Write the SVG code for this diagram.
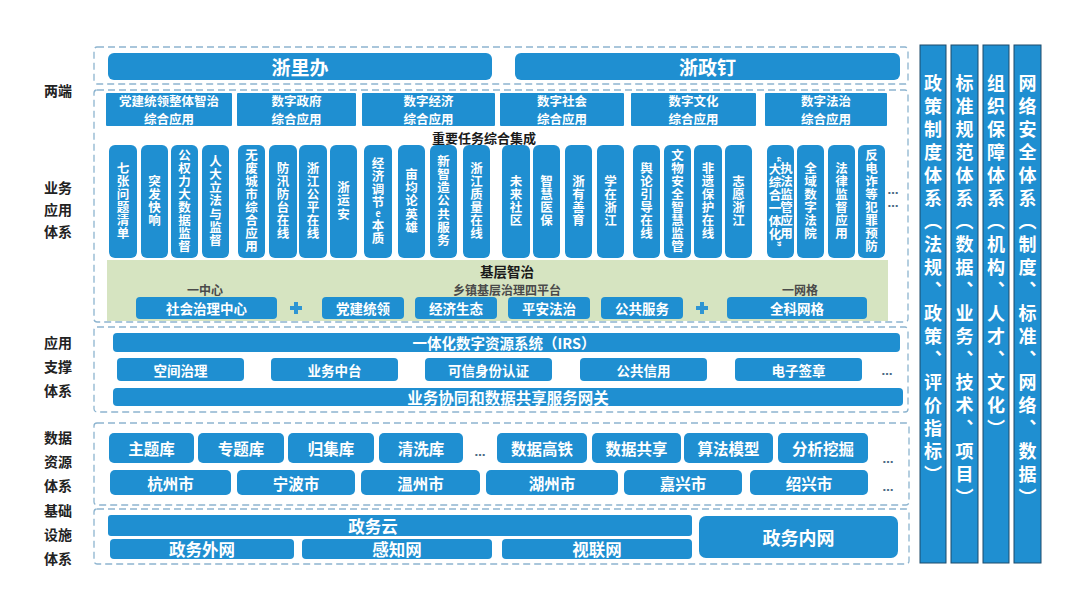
<svg xmlns="http://www.w3.org/2000/svg" width="1080" height="608" viewBox="0 0 1080 608">
<style>
.dash{fill:none;stroke:#8db4cf;stroke-width:1.3;stroke-dasharray:7 4}
.b{fill:#1f8fd1}
.bar{fill:#1f8fd1;stroke:#1d4a6b;stroke-width:1}
.g{fill:#d6e4c1}
.t{font-family:"Noto Sans CJK SC","Noto Sans",sans-serif;font-weight:700;fill:#fff;text-anchor:middle;dominant-baseline:central}
.h{font-family:"Noto Sans CJK SC","Noto Sans",sans-serif;font-weight:700;fill:#fff;text-anchor:middle;dominant-baseline:central;font-size:12.5px}
.k{font-family:"Noto Sans CJK SC","Noto Sans",sans-serif;font-weight:700;fill:#1a1a1a;text-anchor:middle;dominant-baseline:central}
.gr{font-family:"Noto Sans CJK SC","Noto Sans",sans-serif;font-weight:700;fill:#4a4a4a;text-anchor:middle;dominant-baseline:central;font-size:12px}
.v{font-family:"Noto Sans CJK SC","Noto Sans",sans-serif;font-weight:700;fill:#fff;text-anchor:middle;writing-mode:vertical-rl;font-size:12.5px;letter-spacing:0.6px}
.rv{font-family:"Noto Sans CJK SC","Noto Sans",sans-serif;font-weight:700;fill:#fff;text-anchor:start;writing-mode:vertical-rl;font-size:18px;letter-spacing:5px}
.lbl{font-family:"Noto Sans CJK SC","Noto Sans",sans-serif;font-weight:700;fill:#222;text-anchor:middle;dominant-baseline:central;font-size:14px}
.dots{font-family:"DejaVu Sans",sans-serif;font-weight:700;fill:#4d6a85;text-anchor:middle;dominant-baseline:central;font-size:11px}
.plus{fill:#2e95d3}
</style>
<rect width="1080" height="608" fill="#fff"/>

<g id="labels">
<text class="lbl" x="58" y="90">两端</text>
<text class="lbl" x="58" y="187">业务</text>
<text class="lbl" x="58" y="209">应用</text>
<text class="lbl" x="58" y="231">体系</text>
<text class="lbl" x="58" y="342">应用</text>
<text class="lbl" x="58" y="366">支撑</text>
<text class="lbl" x="58" y="390">体系</text>
<text class="lbl" x="58" y="437">数据</text>
<text class="lbl" x="58" y="461">资源</text>
<text class="lbl" x="58" y="485">体系</text>
<text class="lbl" x="58" y="510">基础</text>
<text class="lbl" x="58" y="534">设施</text>
<text class="lbl" x="58" y="558">体系</text>
</g>

<g id="layer-frames">
<rect class="dash" x="94" y="47" width="814" height="37" rx="3"/>
<rect class="dash" x="94" y="90" width="814" height="232" rx="3"/>
<rect class="dash" x="94" y="327" width="814" height="85" rx="3"/>
<rect class="dash" x="94" y="423" width="815" height="82" rx="3"/>
<rect class="dash" x="94" y="509" width="815" height="55" rx="3"/>
</g>

<g id="two-ends">
<g id="zheliban"><rect class="b" x="108" y="53" width="384" height="27" rx="6"/><text class="t" x="300" y="66.5" font-size="19">浙里办</text></g>
<g id="zhezhengding"><rect class="b" x="515" y="53" width="385" height="27" rx="6"/><text class="t" x="707.5" y="66.5" font-size="19">浙政钉</text></g>
</g>

<g id="headers">
<g id="h1"><rect class="b" x="106" y="93" width="126" height="33" rx="1"/><text class="h" x="169" y="100.5">党建统领整体智治</text><text class="h" x="169" y="118.5">综合应用</text></g>
<g id="h2"><rect class="b" x="237" y="93" width="119" height="33" rx="1"/><text class="h" x="296.5" y="100.5">数字政府</text><text class="h" x="296.5" y="118.5">综合应用</text></g>
<g id="h3"><rect class="b" x="362" y="93" width="133" height="33" rx="1"/><text class="h" x="428.5" y="100.5">数字经济</text><text class="h" x="428.5" y="118.5">综合应用</text></g>
<g id="h4"><rect class="b" x="500" y="93" width="124" height="33" rx="1"/><text class="h" x="562" y="100.5">数字社会</text><text class="h" x="562" y="118.5">综合应用</text></g>
<g id="h5"><rect class="b" x="631" y="93" width="125" height="33" rx="1"/><text class="h" x="693.5" y="100.5">数字文化</text><text class="h" x="693.5" y="118.5">综合应用</text></g>
<g id="h6"><rect class="b" x="765" y="93" width="122" height="33" rx="1"/><text class="h" x="826" y="100.5">数字法治</text><text class="h" x="826" y="118.5">综合应用</text></g>
<text class="k" x="484" y="137" font-size="13">重要任务综合集成</text>
</g>

<g id="apps">
<g id="a1"><rect class="b" x="109" y="145" width="28" height="113" rx="6"/><text class="v" x="123" y="201">七张问题清单</text></g>
<g id="a2"><rect class="b" x="141" y="145" width="27" height="113" rx="6"/><text class="v" x="154.5" y="201">突发快响</text></g>
<g id="a3"><rect class="b" x="171" y="145" width="27" height="113" rx="6"/><text class="v" x="184.5" y="201">公权力大数据监督</text></g>
<g id="a4"><rect class="b" x="202" y="145" width="27" height="113" rx="6"/><text class="v" x="215.5" y="201">人大立法与监督</text></g>
<g id="a5"><rect class="b" x="238" y="145" width="27" height="113" rx="6"/><text class="v" x="251.5" y="201">无废城市综合应用</text></g>
<g id="a6"><rect class="b" x="269" y="145" width="28" height="113" rx="6"/><text class="v" x="283" y="201">防汛防台在线</text></g>
<g id="a7"><rect class="b" x="299" y="145" width="28" height="113" rx="6"/><text class="v" x="313" y="201">浙江公平在线</text></g>
<g id="a8"><rect class="b" x="330" y="145" width="27" height="113" rx="6"/><text class="v" x="343.5" y="201">浙运安</text></g>
<g id="a9"><rect class="b" x="364" y="145" width="28" height="113" rx="6"/><text class="v" x="378" y="201" style="text-orientation:upright">经济调节<tspan font-size="9">e</tspan>本质</text></g>
<g id="a10"><rect class="b" x="398" y="145" width="27" height="113" rx="6"/><text class="v" x="411.5" y="201">亩均论英雄</text></g>
<g id="a11"><rect class="b" x="430" y="145" width="27" height="113" rx="6"/><text class="v" x="443.5" y="201">新智造公共服务</text></g>
<g id="a12"><rect class="b" x="463" y="145" width="27" height="113" rx="6"/><text class="v" x="476.5" y="201">浙江质量在线</text></g>
<g id="a13"><rect class="b" x="502" y="145" width="28" height="113" rx="6"/><text class="v" x="516" y="201">未来社区</text></g>
<g id="a14"><rect class="b" x="533" y="145" width="27" height="113" rx="6"/><text class="v" x="546.5" y="201">智慧医保</text></g>
<g id="a15"><rect class="b" x="565" y="145" width="27" height="113" rx="6"/><text class="v" x="578.5" y="201">浙有善育</text></g>
<g id="a16"><rect class="b" x="597" y="145" width="27" height="113" rx="6"/><text class="v" x="610.5" y="201">学在浙江</text></g>
<g id="a17"><rect class="b" x="633" y="145" width="27" height="113" rx="6"/><text class="v" x="646.5" y="201">舆论引导在线</text></g>
<g id="a18"><rect class="b" x="664" y="145" width="27" height="113" rx="6"/><text class="v" x="677.5" y="201">文物安全智慧监管</text></g>
<g id="a19"><rect class="b" x="694" y="145" width="28" height="113" rx="6"/><text class="v" x="708" y="201">非遗保护在线</text></g>
<g id="a20"><rect class="b" x="725" y="145" width="27" height="113" rx="6"/><text class="v" x="738.5" y="201">志愿浙江</text></g>
<g id="a21"><rect class="b" x="767" y="145" width="27" height="113" rx="6"/><text class="v" x="775" y="202" font-size="10" letter-spacing="0">“大综合一体化”</text><text class="v" x="786.5" y="201" font-size="10.5" letter-spacing="0">执法监管应用</text></g>
<g id="a22"><rect class="b" x="797" y="145" width="27" height="113" rx="6"/><text class="v" x="810.5" y="201">全域数字法院</text></g>
<g id="a23"><rect class="b" x="828" y="145" width="27" height="113" rx="6"/><text class="v" x="841.5" y="201">法律监督应用</text></g>
<g id="a24"><rect class="b" x="858" y="145" width="27" height="113" rx="6"/><text class="v" x="871.5" y="201">反电诈等犯罪预防</text></g>
<text class="dots" x="893" y="190">…</text>
<text class="dots" x="893" y="203">…</text>
</g>

<g id="grassroots">
<rect class="g" x="107" y="260" width="781" height="61"/>
<text class="k" x="507" y="270.5" font-size="13.5">基层智治</text>
<text class="gr" x="507" y="289">乡镇基层治理四平台</text>
<text class="gr" x="205" y="289" font-size="12.5">一中心</text>
<text class="gr" x="800" y="289" font-size="12.5">一网格</text>
<g id="g1"><rect class="b" x="136" y="297" width="141" height="22" rx="4"/><text class="t" x="206.5" y="308" font-size="13.5">社会治理中心</text></g>
<path class="plus" d="M294 302h4v4h4v4h-4v4h-4v-4h-4v-4h4z"/>
<g id="g2"><rect class="b" x="322" y="297" width="82" height="22" rx="4"/><text class="t" x="363" y="308" font-size="13.5">党建统领</text></g>
<g id="g3"><rect class="b" x="415" y="297" width="82" height="22" rx="4"/><text class="t" x="456" y="308" font-size="13.5">经济生态</text></g>
<g id="g4"><rect class="b" x="508" y="297" width="82" height="22" rx="4"/><text class="t" x="549" y="308" font-size="13.5">平安法治</text></g>
<g id="g5"><rect class="b" x="601" y="297" width="82" height="22" rx="4"/><text class="t" x="642" y="308" font-size="13.5">公共服务</text></g>
<path class="plus" d="M700 302h4v4h4v4h-4v4h-4v-4h-4v-4h4z"/>
<g id="g6"><rect class="b" x="727" y="297" width="140" height="22" rx="4"/><text class="t" x="797" y="308" font-size="13.5">全科网格</text></g>
</g>

<g id="support">
<g id="irs"><rect class="b" x="113" y="333" width="787" height="19" rx="4"/><text class="t" x="504" y="342.5" font-size="14.5">一体化数字资源系统（IRS）</text></g>
<g id="s1"><rect class="b" x="117" y="358" width="127" height="23" rx="4"/><text class="t" x="180.5" y="369.5" font-size="13.5">空间治理</text></g>
<g id="s2"><rect class="b" x="271" y="358" width="127" height="23" rx="4"/><text class="t" x="334.5" y="369.5" font-size="13.5">业务中台</text></g>
<g id="s3"><rect class="b" x="425" y="358" width="127" height="23" rx="4"/><text class="t" x="488.5" y="369.5" font-size="13.5">可信身份认证</text></g>
<g id="s4"><rect class="b" x="580" y="358" width="127" height="23" rx="4"/><text class="t" x="643.5" y="369.5" font-size="13.5">公共信用</text></g>
<g id="s5"><rect class="b" x="735" y="358" width="127" height="23" rx="4"/><text class="t" x="798.5" y="369.5" font-size="13.5">电子签章</text></g>
<text class="dots" x="887" y="371">…</text>
<g id="gateway"><rect class="b" x="113" y="388" width="790" height="18" rx="4"/><text class="t" x="508" y="397" font-size="15.5">业务协同和数据共享服务网关</text></g>
</g>

<g id="data">
<g id="d1"><rect class="b" x="109" y="433" width="85" height="30" rx="5"/><text class="t" x="151.5" y="448" font-size="15.5">主题库</text></g>
<g id="d2"><rect class="b" x="198" y="433" width="86" height="30" rx="5"/><text class="t" x="241" y="448" font-size="15.5">专题库</text></g>
<g id="d3"><rect class="b" x="288" y="433" width="86" height="30" rx="5"/><text class="t" x="331" y="448" font-size="15.5">归集库</text></g>
<g id="d4"><rect class="b" x="379" y="433" width="84" height="30" rx="5"/><text class="t" x="421" y="448" font-size="15.5">清洗库</text></g>
<text class="dots" x="480" y="452">…</text>
<g id="d5"><rect class="b" x="497" y="433" width="90" height="30" rx="5"/><text class="t" x="542" y="448" font-size="15.5">数据高铁</text></g>
<g id="d6"><rect class="b" x="592" y="433" width="89" height="30" rx="5"/><text class="t" x="636.5" y="448" font-size="15.5">数据共享</text></g>
<g id="d7"><rect class="b" x="684" y="433" width="89" height="30" rx="5"/><text class="t" x="728.5" y="448" font-size="15.5">算法模型</text></g>
<g id="d8"><rect class="b" x="778" y="433" width="90" height="30" rx="5"/><text class="t" x="823" y="448" font-size="15.5">分析挖掘</text></g>
<text class="dots" x="888" y="459">…</text>
<g id="c1"><rect class="b" x="110" y="470" width="121" height="25" rx="5"/><text class="t" x="170.5" y="482.5" font-size="15.5">杭州市</text></g>
<g id="c2"><rect class="b" x="237" y="470" width="118" height="25" rx="5"/><text class="t" x="296" y="482.5" font-size="15.5">宁波市</text></g>
<g id="c3"><rect class="b" x="361" y="470" width="119" height="25" rx="5"/><text class="t" x="420.5" y="482.5" font-size="15.5">温州市</text></g>
<g id="c4"><rect class="b" x="486" y="470" width="132" height="25" rx="5"/><text class="t" x="552" y="482.5" font-size="15.5">湖州市</text></g>
<g id="c5"><rect class="b" x="624" y="470" width="118" height="25" rx="5"/><text class="t" x="683" y="482.5" font-size="15.5">嘉兴市</text></g>
<g id="c6"><rect class="b" x="750" y="470" width="118" height="25" rx="5"/><text class="t" x="809" y="482.5" font-size="15.5">绍兴市</text></g>
<text class="dots" x="888" y="487">…</text>
</g>

<g id="infra">
<g id="cloud"><rect class="b" x="108" y="515" width="584" height="21" rx="3"/><text class="t" x="373" y="525.5" font-size="16.5">政务云</text></g>
<g id="n1"><rect class="b" x="110" y="539" width="184" height="20" rx="4"/><text class="t" x="202" y="549" font-size="16.5">政务外网</text></g>
<g id="n2"><rect class="b" x="302" y="539" width="190" height="20" rx="4"/><text class="t" x="397" y="549" font-size="16.5">感知网</text></g>
<g id="n3"><rect class="b" x="502" y="539" width="190" height="20" rx="4"/><text class="t" x="597" y="549" font-size="16.5">视联网</text></g>
<g id="n4"><rect class="b" x="699" y="516" width="199" height="42" rx="7"/><text class="t" x="798.5" y="537" font-size="18">政务内网</text></g>
</g>

<g id="pillars">
<g id="p1"><rect class="bar" x="920" y="45" width="26" height="518"/><text class="rv" x="933" y="74">政策制度体系（法规、政策、评价指标）</text></g>
<g id="p2"><rect class="bar" x="951" y="45" width="27" height="518"/><text class="rv" x="964.5" y="74">标准规范体系（数据、业务、技术、项目）</text></g>
<g id="p3"><rect class="bar" x="983" y="45" width="26" height="518"/><text class="rv" x="996" y="74">组织保障体系（机构、人才、文化）</text></g>
<g id="p4"><rect class="bar" x="1014" y="45" width="27" height="518"/><text class="rv" x="1027.5" y="74">网络安全体系（制度、标准、网络、数据）</text></g>
</g>

<g id="connectors"/>
</svg>
